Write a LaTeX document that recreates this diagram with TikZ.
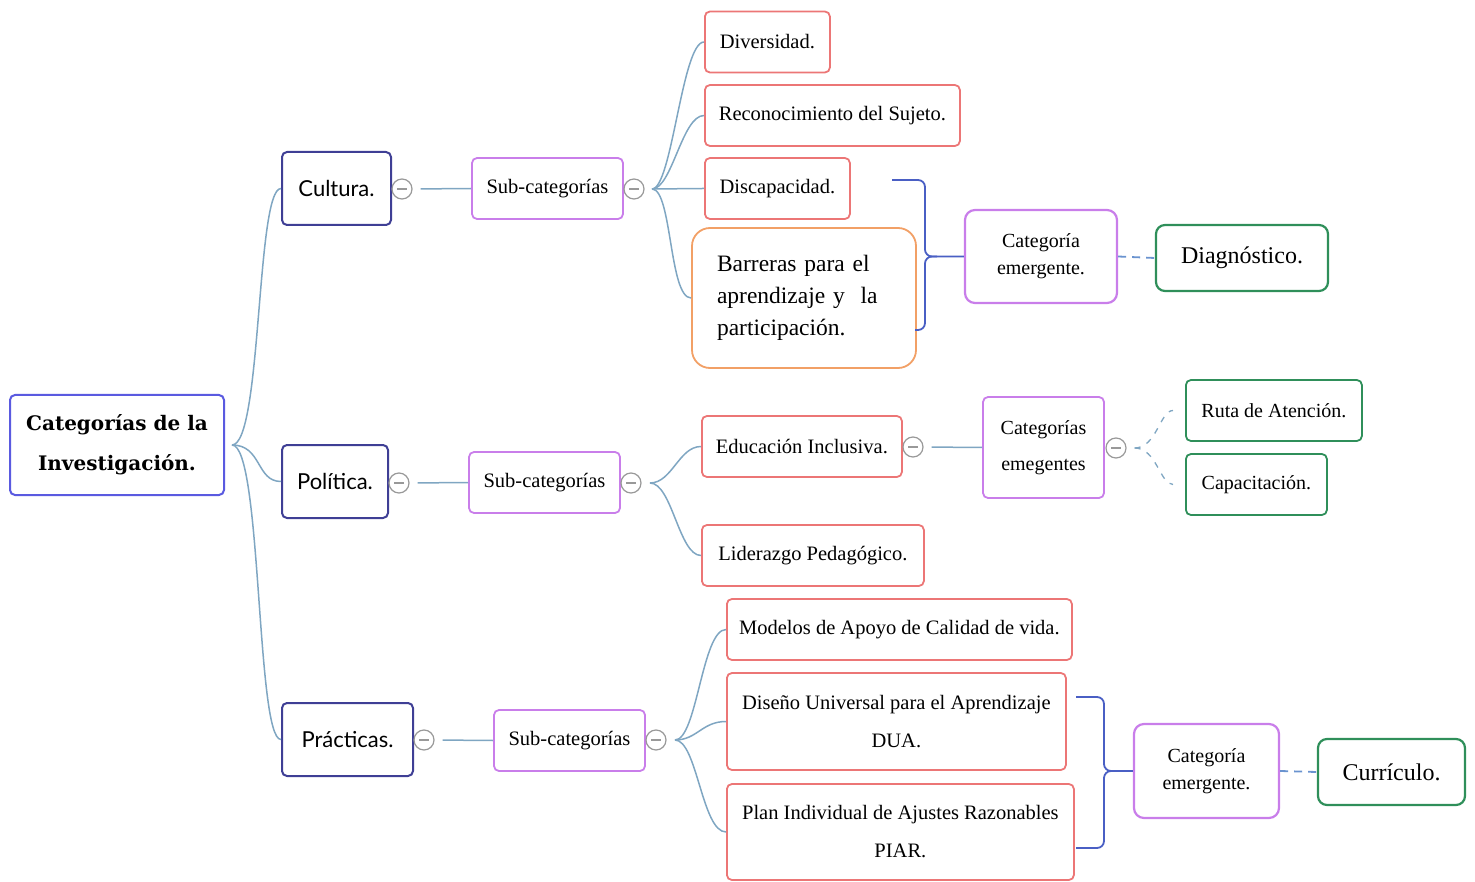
\documentclass[tikz,border=0pt]{standalone}
\usepackage{fontspec}
\setmainfont{Liberation Serif}
\newfontfamily\rootfont{DejaVu Serif}
\newfontfamily\handfont{Lato}
\usetikzlibrary{calc}

\definecolor{rootc}{HTML}{5A5AE0}
\definecolor{mainc}{HTML}{3F3F95}
\definecolor{subc}{HTML}{C97EEA}
\definecolor{leafc}{HTML}{EC7676}
\definecolor{barc}{HTML}{F2A066}
\definecolor{resc}{HTML}{2F8F5A}
\definecolor{linkc}{HTML}{7FA6C2}
\definecolor{brkc}{HTML}{4A5FC4}
\definecolor{dashc}{HTML}{6A93CF}

\begin{document}
\begin{tikzpicture}[x=1pt, y=-1pt,
    root/.style = {draw=rootc, line width=2pt, rounded corners=5pt, align=center,
                   font=\rootfont\bfseries\fontsize{20}{40}\selectfont},
    mainbox/.style = {draw=mainc, line width=2pt, rounded corners=5pt, minimum height=73pt,
                   font=\handfont\fontsize{22}{28}\selectfont},
    subbox/.style = {draw=subc, line width=1.8pt, rounded corners=5pt, minimum width=151pt,
                   minimum height=61pt, font=\fontsize{20.5}{24}\selectfont},
    leaf/.style = {draw=leafc, line width=1.8pt, rounded corners=5pt, minimum height=61pt,
                   anchor=west, align=center, font=\fontsize{20.5}{38}\selectfont},
    emerg/.style = {draw=subc, line width=2.2pt, rounded corners=10pt, align=center,
                   font=\fontsize{20}{27}\selectfont},
    result/.style = {draw=resc, line width=2.2pt, rounded corners=9pt, minimum height=66pt,
                   font=\fontsize{24}{28}\selectfont},
    fold/.style = {circle, draw=gray!80, line width=1.2pt, minimum size=20pt, inner sep=0pt,
                   path picture={\draw[gray!80, line width=1.4pt]
                     ([xshift=-5pt]path picture bounding box.center) --
                     ([xshift=5pt]path picture bounding box.center);}},
    link/.style = {draw=linkc, line width=1.5pt},
    brk/.style = {draw=brkc, line width=1.8pt, rounded corners=7pt},
    dlink/.style = {draw=dashc, line width=1.8pt, dash pattern=on 8pt off 6pt}]

  \useasboundingbox (0,0) rectangle (1475,882);

  % root and the three categories
  \node[root, minimum width=214pt, minimum height=100pt] (inv) at (117,445)
    {Categorías de la\\Investigación.};
  \node[mainbox, minimum width=109pt] (cul) at (336.5,188.5) {Cultura.};
  \node[mainbox, minimum width=106pt] (pol) at (335,481.5) {Política.};
  \node[mainbox, minimum width=131pt] (pra) at (347.5,739.5) {Prácticas.};

  \coordinate (invf) at (232,445);
  \foreach \n in {cul,pol,pra}
    \draw[link] (invf) .. controls +(30,0) and +(-25,0) .. (\n.west);

  % sub-categorias
  \node[fold] (cf1) at (402,189) {};
  \node[fold] (pf1) at (399,483) {};
  \node[fold] (rf1) at (424,740) {};
  \node[subbox] (subc) at (547.5,188.5) {Sub-categorías};
  \node[subbox] (subp) at (544.5,482.5) {Sub-categorías};
  \node[subbox] (subr) at (569.5,740.5) {Sub-categorías};
  \draw[link, shorten <=8pt] (cf1.east) -- (subc.west);
  \draw[link, shorten <=8pt] (pf1.east) -- (subp.west);
  \draw[link, shorten <=8pt] (rf1.east) -- (subr.west);
  \node[fold] (cf2) at (634,189) {};
  \node[fold] (pf2) at (631,483) {};
  \node[fold] (rf2) at (656,740) {};

  % Cultura
  \node[leaf, minimum width=125pt] (div) at (704,42) {Diversidad.};
  \node[leaf, minimum width=255pt] (rec) at (704,115.5) {Reconocimiento del Sujeto.};
  \node[leaf, minimum width=145pt] (dis) at (704,188.5) {Discapacidad.};
  \node[draw=barc, line width=1.8pt, rounded corners=18pt, text width=174pt, inner xsep=25pt,
        minimum height=140pt, align=left, font=\fontsize{23.5}{32}\selectfont] (bar) at (804,298)
    {Barreras para el\\aprendizaje y\ \ la\\participación.};
  \coordinate (cf) at (652,189);
  \foreach \n in {div,rec,dis,bar}
    \draw[link] (cf) .. controls +(20,0) and +(-22,0) .. (\n.west);

  \node[emerg, minimum width=152pt, minimum height=93pt] (cat1) at (1041,256.5)
    {Categoría\\emergente.};
  \node[result, minimum width=172pt] (diag) at (1242,258) {Diagnóstico.};
  \coordinate (b1t) at (892,180);
  \coordinate (b1b) at (915,330);
  \coordinate (b1m) at (925,256.5);
  \draw[brk] (b1t) -| (b1m) -- (cat1.west);
  \draw[brk] (b1b) -| (b1m) -- ++(12,0);
  \draw[dlink] (cat1.east) -- (diag.west);

  % Politica
  \node[leaf, minimum width=200pt] (edu) at (701,446.5) {Educación Inclusiva.};
  \node[leaf, minimum width=222pt] (lid) at (701,555.5) {Liderazgo Pedagógico.};
  \coordinate (pf) at (650,483);
  \foreach \n in {edu,lid}
    \draw[link] (pf) .. controls +(22,0) and +(-22,0) .. (\n.west);

  \node[fold] (pf3) at (913,447) {};
  \node[emerg, draw=subc, line width=1.8pt, rounded corners=5pt, minimum width=121pt,
        minimum height=101pt, font=\fontsize{20}{36}\selectfont] (catp) at (1043.5,447.5)
    {Categorías\\emegentes};
  \draw[link, shorten <=8pt] (pf3.east) -- (catp.west);
  \node[fold] (pf4) at (1116,448) {};
  \node[leaf, draw=resc, minimum width=176pt, font=\fontsize{20}{24}\selectfont] (ruta)
    at (1185,410.5) {Ruta de Atención.};
  \node[leaf, draw=resc, minimum width=141pt, font=\fontsize{20}{24}\selectfont] (capa)
    at (1185,484.5) {Capacitación.};
  \foreach \n in {ruta,capa}
    \draw[dlink, draw=linkc, line width=1.3pt, dash pattern=on 6pt off 7pt,
          shorten <=8pt, shorten >=12pt] (pf4.east) .. controls +(30,0) and +(-25,0) .. (\n.west);

  % Practicas
  \node[leaf, minimum width=345pt] (mod) at (726,629.5) {Modelos de Apoyo de Calidad de vida.};
  \node[leaf, minimum width=339pt, minimum height=97pt] (dua) at (726,721.5)
    {Diseño Universal para el Aprendizaje\\DUA.};
  \node[leaf, minimum width=347pt, minimum height=96pt] (piar) at (726,832)
    {Plan Individual de Ajustes Razonables\\PIAR.};
  \coordinate (rf) at (675,740);
  \foreach \n in {mod,dua,piar}
    \draw[link] (rf) .. controls +(22,0) and +(-24,0) .. (\n.west);

  \node[emerg, minimum width=145pt, minimum height=94pt] (cat2) at (1206.5,771)
    {Categoría\\emergente.};
  \node[result, minimum width=147pt] (curr) at (1391.5,772) {Currículo.};
  \coordinate (b2t) at (1076,697);
  \coordinate (b2b) at (1076,848);
  \coordinate (b2m) at (1104,771);
  \draw[brk] (b2t) -| (b2m) -- (cat2.west);
  \draw[brk] (b2b) -| (b2m) -- ++(12,0);
  \draw[dlink] (cat2.east) -- (curr.west);
\end{tikzpicture}
\end{document}
